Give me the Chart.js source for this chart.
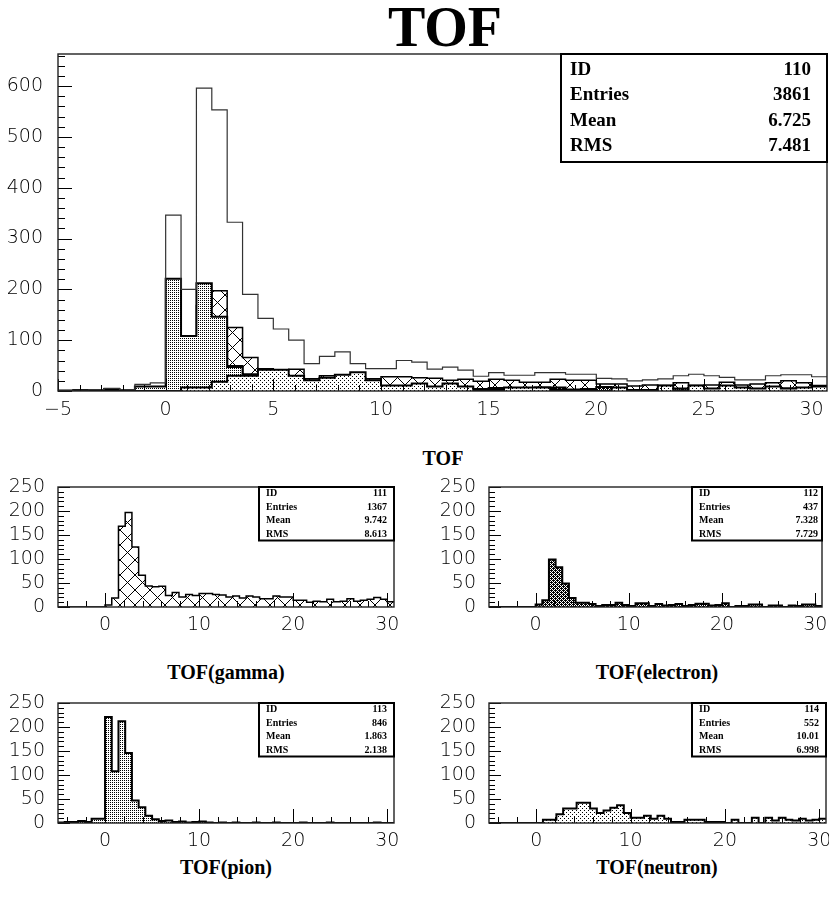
<!DOCTYPE html>
<html>
<head>
<meta charset="utf-8">
<script src="https://cdn.jsdelivr.net/npm/chart.js@4.4.1/dist/chart.umd.min.js"></script>
<style>
  body { margin: 0; background: #fff; width: 829px; height: 902px; position: relative; overflow: hidden; }
  canvas { position: absolute; }
  .ttl { position: absolute; font-family: "Liberation Serif", "Times New Roman", serif; font-weight: bold;
         color: #000; white-space: nowrap; line-height: 1; transform: translateX(-50%); }
</style>
</head>
<body>
<div class="ttl" style="left:445px; top:-1px; font-size:56px;">TOF</div>
<div class="ttl" style="left:443px; top:448px; font-size:20px;">TOF</div>
<div class="ttl" style="left:226px; top:662px; font-size:20px;">TOF(gamma)</div>
<div class="ttl" style="left:657px; top:662px; font-size:20px;">TOF(electron)</div>
<div class="ttl" style="left:226px; top:857px; font-size:20px;">TOF(pion)</div>
<div class="ttl" style="left:657px; top:857px; font-size:20px;">TOF(neutron)</div>

<canvas id="cMain" width="829" height="400" style="left:0; top:40px;"></canvas>
<canvas id="cGamma" width="400" height="170" style="left:0; top:470px;"></canvas>
<canvas id="cElectron" width="409" height="170" style="left:420px; top:470px;"></canvas>
<canvas id="cPion" width="400" height="170" style="left:0; top:686px;"></canvas>
<canvas id="cNeutron" width="409" height="170" style="left:420px; top:686px;"></canvas>

<script>
// ---- histogram binning: 50 bins of 5/7 starting at -5 ----
const xMin = -5;
const binWidth = 5 / 7;
const binCount = 50;

// ---- axis tick labels ----
const mainTicksX = [-5, 0, 5, 10, 15, 20, 25, 30];
const mainTicksY = [0, 100, 200, 300, 400, 500, 600];
const subTicksX = [0, 10, 20, 30];
const subTicksY = [0, 50, 100, 150, 200, 250];

// ---- bin contents ----
const totalCounts = [
  1, 2, 3, 5, 3, 13, 16,
  346, 200, 596, 553, 332, 190, 143, 122, 100, 54, 68,
  77, 54, 44, 44, 60, 57, 43, 47, 41, 29, 36, 31, 31, 36, 36, 33,
  33, 25, 24, 20, 22, 24, 30, 33, 30, 27, 22, 22, 30, 32, 32, 28
];
const gammaCounts = [
  0, 0, 0, 0, 0, 0, 0,
  4, 19, 168, 197, 125, 66, 44, 42, 43, 24, 30,
  21, 26, 24, 28, 28, 26, 25, 21, 23, 19, 23, 21, 17, 17, 23, 21,
  21, 14, 14, 10, 12, 11, 16, 11, 12, 17, 12, 14, 16, 20, 16, 11
];
const electronCounts = [
  0, 0, 0, 0, 0, 0, 0,
  5, 14, 99, 83, 49, 19, 9, 9, 6, 2, 4,
  4, 9, 4, 2, 8, 8, 2, 6, 3, 4, 6, 2, 4, 7, 7, 3,
  4, 8, 0, 2, 2, 5, 5, 0, 3, 3, 0, 3, 2, 5, 5, 2
];
const pionCounts = [
  1, 2, 2, 4, 2, 9, 9,
  221, 108, 212, 146, 47, 33, 15, 8, 4, 5, 2,
  3, 1, 2, 3, 1, 0, 1, 0, 1, 0, 0, 1, 0, 0, 1, 0,
  0, 0, 1, 0, 0, 0, 1, 0, 0, 0, 0, 0, 0, 1, 0, 0
];
const neutronCounts = [
  0, 0, 0, 0, 0, 0, 0,
  0, 7, 7, 18, 30, 30, 42, 42, 30, 21, 26,
  32, 37, 21, 11, 11, 15, 9, 15, 9, 2, 2, 7, 7, 7, 2, 2,
  2, 0, 7, 0, 0, 11, 0, 11, 5, 11, 7, 5, 9, 5, 7, 9
];

// ---- statistics boxes ----
const statNames = ['ID', 'Entries', 'Mean', 'RMS'];
const stats110 = ['110', '3861', '6.725', '7.481'];
const stats111 = ['111', '1367', '9.742', '8.613'];
const stats112 = ['112', '437', '7.328', '7.729'];
const stats113 = ['113', '846', '1.863', '2.138'];
const stats114 = ['114', '552', '10.01', '6.998'];

// ---- fill patterns ----
function pattern(size, paint) {
  const c = document.createElement('canvas');
  c.width = c.height = size;
  const g = c.getContext('2d');
  g.fillStyle = '#fff';
  g.fillRect(0, 0, size, size);
  g.fillStyle = '#000';
  g.strokeStyle = '#000';
  paint(g, size);
  return g.createPattern(c, 'repeat');
}
const hatchFill = pattern(15, (g, s) => {
  g.lineWidth = 1;
  g.beginPath();
  g.moveTo(-1, -1); g.lineTo(s + 1, s + 1);
  g.moveTo(s + 1, -1); g.lineTo(-1, s + 1);
  g.stroke();
});
const denseDots = pattern(2, (g) => { g.fillRect(0, 0, 1, 1); });
const darkDots = pattern(4, (g) => {
  for (let i = 0; i < 4; i++) for (let j = 0; j < 4; j++) {
    if ((i + j) % 2 === 0 || (i === 1 && j === 2) || (i === 3 && j === 0)) g.fillRect(i, j, 1, 1);
  }
});
const sparseDots = pattern(4, (g) => { g.fillRect(0, 0, 1, 1); g.fillRect(2, 2, 1, 1); });

function stepPoints(counts) {
  const pts = counts.map((v, k) => ({ x: xMin + k * binWidth, y: v }));
  pts.push({ x: xMin + counts.length * binWidth, y: counts[counts.length - 1] });
  return pts;
}

function histSet(counts, fill, lineWidth, color) {
  return {
    data: stepPoints(counts),
    stepped: 'before',
    fill: fill ? 'origin' : false,
    backgroundColor: fill || 'rgba(0,0,0,0)',
    borderColor: color || '#000',
    borderWidth: lineWidth,
    pointRadius: 0,
    borderJoinStyle: 'miter',
    tension: 0
  };
}

// frame, inward tick marks and statistics box, PAW style
const framePlugin = {
  id: 'frameTicks',
  afterDatasetsDraw(chart, args, o) {
    const { ctx, chartArea: a, scales: { x, y } } = chart;
    ctx.save();
    ctx.strokeStyle = '#000';
    ctx.lineWidth = 1;
    ctx.beginPath();
    const kx0 = Math.ceil(x.min / o.xMinor);
    for (let k = kx0; k * o.xMinor <= x.max; k++) {
      const v = k * o.xMinor;
      const px = Math.round(x.getPixelForValue(v)) + 0.5;
      const len = (Math.abs(v % o.xMajor) < 1e-9) ? o.xMajorLen : o.xMinorLen;
      ctx.moveTo(px, a.bottom);
      ctx.lineTo(px, a.bottom - len);
    }
    for (let k = 0; k * o.yMinor <= y.max; k++) {
      const v = k * o.yMinor;
      const py = Math.round(y.getPixelForValue(v)) + 0.5;
      const len = (v % o.yMajor === 0) ? o.yMajorLen : o.yMinorLen;
      ctx.moveTo(a.left, py);
      ctx.lineTo(a.left + len, py);
    }
    ctx.stroke();
    ctx.strokeStyle = '#222';
    ctx.lineWidth = 1.4;
    ctx.strokeRect(a.left, a.top, a.right - a.left, a.bottom - a.top);
    ctx.restore();
  },
  afterDraw(chart, args, o) {
    const s = o.stats;
    if (!s) return;
    const { ctx, chartArea: a } = chart;
    const bx = a.right - s.w, by = a.top;
    ctx.save();
    ctx.fillStyle = '#fff';
    ctx.fillRect(bx, by, s.w, s.h);
    ctx.strokeStyle = '#000';
    ctx.lineWidth = s.border;
    ctx.strokeRect(bx, by, s.w, s.h);
    ctx.fillStyle = '#000';
    ctx.font = 'bold ' + s.font + 'px "Liberation Serif", "Times New Roman", serif';
    ctx.textBaseline = 'middle';
    for (let i = 0; i < statNames.length; i++) {
      const ty = by + s.row0 + i * s.rowStep;
      ctx.textAlign = 'left';
      ctx.fillText(statNames[i], bx + s.padL, ty);
      ctx.textAlign = 'right';
      ctx.fillText(s.values[i], a.right - s.padR, ty);
    }
    ctx.restore();
  }
};

const tickFont = { family: '"DejaVu Sans", "Liberation Sans", sans-serif', size: 19, weight: '300' };
const fmt = (v) => (v < 0 ? '\u2212' + Math.abs(v) : String(v));

function makeChart(id, layout, ticksX, ticksY, yMax, datasets, tickCfg, stats) {
  return new Chart(document.getElementById(id), {
    type: 'line',
    data: { datasets },
    plugins: [framePlugin],
    options: {
      responsive: false,
      animation: false,
      events: [],
      layout: { padding: { top: layout.top, right: layout.right, left: 0, bottom: 0 } },
      plugins: {
        legend: { display: false },
        tooltip: { enabled: false },
        frameTicks: Object.assign({}, tickCfg, { stats })
      },
      scales: {
        x: {
          type: 'linear',
          min: xMin,
          max: xMin + binCount * binWidth,
          grid: { display: false, drawTicks: false },
          border: { display: false },
          afterBuildTicks: (s) => { s.ticks = ticksX.map(v => ({ value: v })); },
          afterFit: (s) => { s.height = layout.xh; s.paddingLeft = 0; s.paddingRight = 0; },
          ticks: { color: '#000', font: tickFont, padding: layout.xpad, maxRotation: 0, autoSkip: false, callback: fmt }
        },
        y: {
          type: 'linear',
          min: 0,
          max: yMax,
          grid: { display: false, drawTicks: false },
          border: { display: false },
          afterBuildTicks: (s) => { s.ticks = ticksY.map(v => ({ value: v })); },
          afterFit: (s) => { s.width = layout.yw; s.paddingTop = 0; s.paddingBottom = 0; },
          ticks: { color: '#000', font: tickFont, padding: layout.ypad, autoSkip: false, callback: fmt }
        }
      }
    }
  });
}

const mainTickCfg = { xMinor: 1, xMajor: 5, xMinorLen: 6, xMajorLen: 12, yMinor: 20, yMajor: 100, yMinorLen: 7, yMajorLen: 14 };
const subTickCfg = { xMinor: 2, xMajor: 10, xMinorLen: 6, xMajorLen: 14, yMinor: 10, yMajor: 50, yMinorLen: 6, yMajorLen: 12 };

// overview: total outline over the per-particle distributions
makeChart('cMain', { top: 14, right: 2, xh: 49, yw: 58, xpad: 8, ypad: 15 },
  mainTicksX, mainTicksY, 663, [
    histSet(totalCounts, null, 1.2, '#333'),
    histSet(neutronCounts, sparseDots, 2),
    histSet(pionCounts, denseDots, 2),
    histSet(electronCounts, darkDots, 2),
    histSet(gammaCounts, hatchFill, 1.5)
  ], mainTickCfg,
  { w: 266, h: 108, border: 2, font: 19, padL: 9, padR: 16, row0: 16, rowStep: 25.5, values: stats110 });

const subStats = (values, w, padR) => ({ w, h: 53.5, border: 2, font: 10, padL: 7, padR, row0: 6.7, rowStep: 13.5, values });

makeChart('cGamma', { top: 17, right: 6, xh: 33, yw: 58, xpad: 7, ypad: 13 },
  subTicksX, subTicksY, 250, [histSet(gammaCounts, hatchFill, 1.5)], subTickCfg, subStats(stats111, 135, 7));
makeChart('cElectron', { top: 17, right: 7, xh: 33, yw: 69, xpad: 7, ypad: 13 },
  subTicksX, subTicksY, 250, [histSet(electronCounts, darkDots, 2)], subTickCfg, subStats(stats112, 130, 4));
makeChart('cPion', { top: 17, right: 6, xh: 33, yw: 58, xpad: 7, ypad: 13 },
  subTicksX, subTicksY, 250, [histSet(pionCounts, denseDots, 2)], subTickCfg, subStats(stats113, 135, 7));
makeChart('cNeutron', { top: 17, right: 3, xh: 33, yw: 69, xpad: 7, ypad: 13 },
  subTicksX, subTicksY, 250, [histSet(neutronCounts, sparseDots, 2)], subTickCfg, subStats(stats114, 134, 7));
</script>
</body>
</html>
